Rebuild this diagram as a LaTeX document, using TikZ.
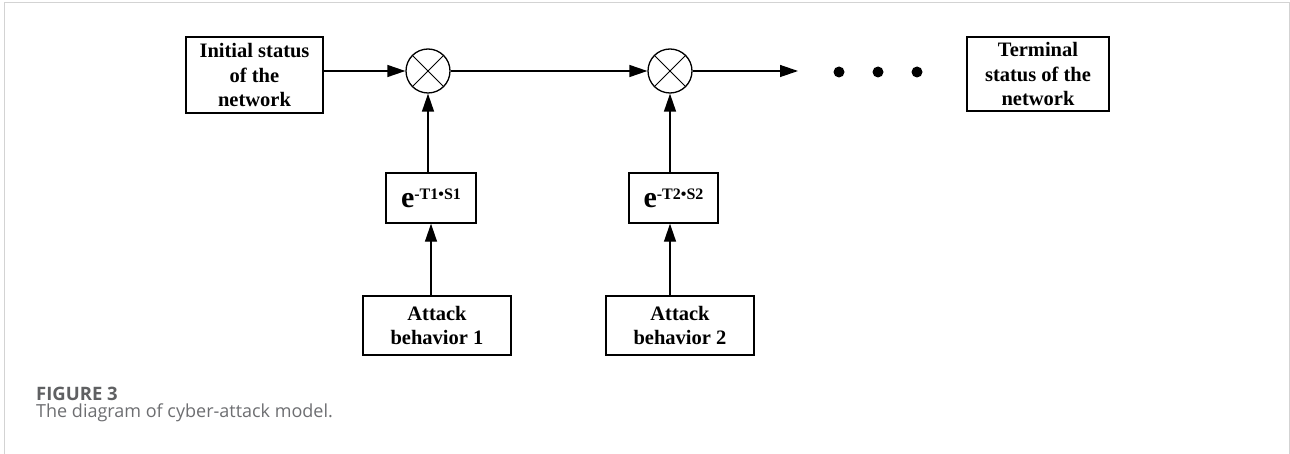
\documentclass[tikz,border=0pt]{standalone}
\usepackage{fontspec}
\usetikzlibrary{arrows.meta}
\newfontfamily\diagfont{Liberation Serif}
\newfontfamily\capfont{Open Sans}
\definecolor{framegray}{HTML}{D3D3D3}
\definecolor{capgray}{HTML}{5F6062}
\definecolor{textgray}{HTML}{6D6E71}

\tikzset{
  blockbox/.style={draw, line width=1.4pt, align=center, inner sep=0pt,
    font=\diagfont\bfseries\fontsize{20.5}{24.5}\selectfont},
  mixer/.style={draw, circle, line width=1.3pt, minimum size=44pt, inner sep=0pt},
  crossline/.style={line width=0.8pt},
  flow/.style={line width=1.3pt, -{Triangle[length=18pt,width=12pt]}},
  dotmark/.style={circle, fill=black, minimum size=11pt, inner sep=0pt},
}

\newcommand{\expterm}[1]{{\fontsize{30}{30}\selectfont e}\raisebox{8pt}{\fontsize{16}{16}\selectfont -#1}}

\begin{document}
\begin{tikzpicture}[x=1pt,y=-1pt]
  \useasboundingbox (0,0) rectangle (1290,454);

  % page frame
  \draw[framegray, line width=1pt] (4,454) -- (4,3) -- (1289,3) -- (1289,454);

  % network states
  \node[blockbox, minimum width=137pt, minimum height=76pt] (init) at (254.5,75)
    {Initial status\\of the\\network};
  \node[blockbox, minimum width=142pt, minimum height=74pt] (term) at (1038,74)
    {Terminal\\status of the\\network};

  % multipliers
  \node[mixer] (c1) at (428,71) {};
  \node[mixer] (c2) at (670,71) {};
  \foreach \c in {c1,c2}{
    \draw[crossline] (\c.45) -- (\c.225);
    \draw[crossline] (\c.135) -- (\c.315);
  }

  % attenuation factors
  \node[blockbox, minimum width=90pt, minimum height=50pt] (e1) at (431,198) {\expterm{T1•S1}};
  \node[blockbox, minimum width=89pt, minimum height=50pt] (e2) at (673.5,198) {\expterm{T2•S2}};

  % attacks
  \node[blockbox, minimum width=148pt, minimum height=59pt] (a1) at (437,325.5) {Attack\\behavior 1};
  \node[blockbox, minimum width=148pt, minimum height=59pt] (a2) at (680,325.5) {Attack\\behavior 2};

  % continuation
  \coordinate (out) at (798,71);
  \node[dotmark] (d1) at (839,72) {};
  \node[dotmark] (d2) at (878,72) {};
  \node[dotmark] (d3) at (917,72) {};

  % connectors
  \draw[flow] (init.east |- c1.west) -- (c1.west);
  \draw[flow] (c1.east) -- (c2.west);
  \draw[flow] (c2.east) -- (out);
  \draw[flow] (c1.south |- e1.north) -- (c1.south);
  \draw[flow] (c2.south |- e2.north) -- (c2.south);
  \draw[flow] (a1.north -| e1) -- (e1.south);
  \draw[flow] (a2.north -| c2) -- (e2.south -| c2);

  % caption
  \node[anchor=base west, inner sep=0pt, text=capgray,
        font=\capfont\bfseries\fontsize{18.5}{20}\selectfont] (fig) at (36,400) {FIGURE 3};
  \node[anchor=base west, inner sep=0pt, text=textgray,
        font=\capfont\fontsize{18}{20}\selectfont] (cap) at (36,417) {The diagram of cyber-attack model.};
\end{tikzpicture}
\end{document}
